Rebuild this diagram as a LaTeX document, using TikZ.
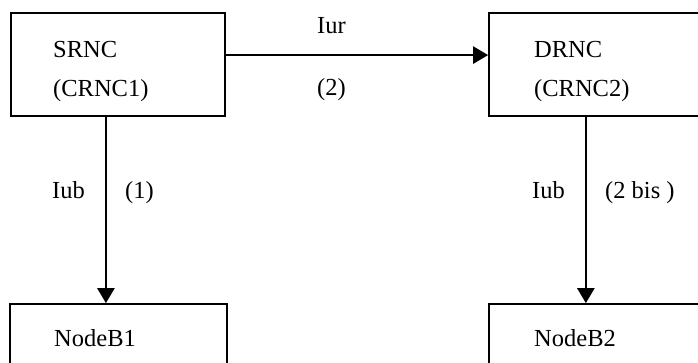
\documentclass[tikz,border=0pt]{standalone}
\usepackage{fontspec}
\setmainfont{Liberation Serif}
\usetikzlibrary{arrows.meta,calc}
\tikzset{
  boxnode/.style={draw=black, line width=1.7pt, minimum width=214pt, minimum height=103pt, inner sep=0pt},
  lbl/.style={anchor=base west, inner sep=0pt, font=\fontsize{24.5}{29}\selectfont},
  arr/.style={line width=2.5pt, -{Triangle[length=15pt,width=17pt]}}
}
\begin{document}
\begin{tikzpicture}[x=1pt,y=-1pt]
\useasboundingbox (0,0) rectangle (698,363);
\clip (0,0) rectangle (698,363);
% boxes
\node[boxnode] (srnc) at (118,64.5) {};
\node[boxnode] (drnc) at (596,64.5) {};
\node[boxnode, minimum width=217pt] (nb1) at (118.5,355.5) {};
\node[boxnode] (nb2) at (596,355.5) {};
% box texts
\node[lbl] (t1) at (53,57.5) {SRNC};
\node[lbl] (t2) at (53,97) {(CRNC1)};
\node[lbl] (t3) at (534,57.5) {DRNC};
\node[lbl] (t4) at (534,97) {(CRNC2)};
\node[lbl] (t5) at (54,346) {NodeB1};
\node[lbl] (t6) at (534,346) {NodeB2};
% connectors
\coordinate (iurA) at ($(srnc.north east)!0.41!(srnc.south east)$);
\draw[arr] (iurA) -- (drnc.west |- iurA);
\coordinate (iubA) at ($(srnc.south west)!0.444!(srnc.south east)$);
\draw[arr] (iubA) -- (nb1.north -| iubA);
\coordinate (iubB) at ($(drnc.south west)!0.453!(drnc.south east)$);
\draw[arr] (iubB) -- (nb2.north -| iubB);
% connector labels
\node[lbl] (l1) at (317,34) {Iur};
\node[lbl] (l2) at (317,96) {(2)};
\node[lbl] (l3) at (52,199) {Iub};
\node[lbl] (l4) at (125,199) {(1)};
\node[lbl] (l5) at (532,199) {Iub};
\node[lbl] (l6) at (605,199) {(2 bis )};
\end{tikzpicture}
\end{document}
